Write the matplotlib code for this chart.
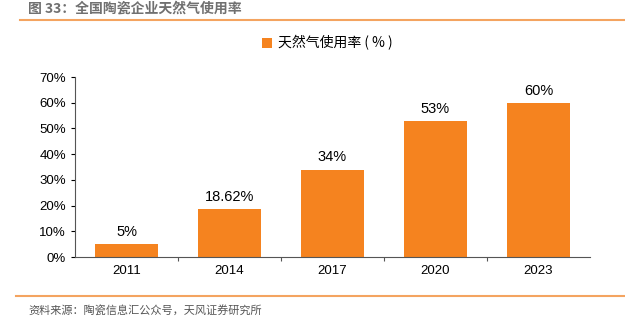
import matplotlib
matplotlib.use('Agg')
import matplotlib.pyplot as plt
from matplotlib.lines import Line2D

plt.rcParams['font.family'] = ['Noto Sans CJK SC', 'DejaVu Sans']

years = ['2011', '2014', '2017', '2020', '2023']
rates = [5, 18.62, 34, 53, 60]
labels = ['5%', '18.62%', '34%', '53%', '60%']
yticks = [0, 10, 20, 30, 40, 50, 60, 70]

orange = '#F5831F'

fig = plt.figure(figsize=(6.25, 3.25), dpi=100)
ax = fig.add_axes([75 / 625, 1 - 257 / 325, 515 / 625, 180 / 325])

x = range(len(years))
bars = ax.bar(x, rates, width=0.62, color=orange, label='天然气使用率 ( % )')
for i, v in enumerate(rates):
    ax.text(i, v + 2, labels[i], ha='center', va='bottom', fontsize=10.5,
            family=['Liberation Sans', 'DejaVu Sans'])

ax.set_xlim(-0.5, len(years) - 0.5)
ax.set_ylim(0, 70)
ax.set_yticks(yticks)
ax.set_yticklabels([f'{t}%' for t in yticks], family=['Liberation Sans', 'DejaVu Sans'])
ax.set_xticks(list(x))
ax.set_xticklabels(years, family=['Liberation Sans', 'DejaVu Sans'])
ax.set_xticks([i + 0.5 for i in range(len(years) - 1)], minor=True)
ax.tick_params(axis='both', labelsize=9.5, length=3, width=0.8)
ax.tick_params(axis='x', length=0, pad=6)
ax.tick_params(axis='x', which='minor', length=3, width=0.8, color='#555555')
for s in ['top', 'right']:
    ax.spines[s].set_visible(False)
ax.spines['left'].set_color('#555555')
ax.spines['bottom'].set_color('#555555')

ax.legend(loc='upper center', bbox_to_anchor=(0.49, 1.3), frameon=False,
          fontsize=10, handlelength=0.7, handleheight=0.7, handletextpad=0.4)

fig.text(28 / 625, 1 - 9 / 325, '图 33：全国陶瓷企业天然气使用率', fontsize=10, fontweight='bold',
         color='#707070', va='center', ha='left')
fig.add_artist(Line2D([20 / 625, 1], [1 - 20 / 325] * 2, color='#F4A460', lw=1.5))
fig.add_artist(Line2D([16 / 625, 1], [1 - 296 / 325] * 2, color='#F4A460', lw=1.5))
fig.text(28 / 625, 1 - 310 / 325, '资料来源：陶瓷信息汇公众号，天风证券研究所', fontsize=8,
         color='#555555', va='center', ha='left')

fig.savefig('out.png', dpi=100)
